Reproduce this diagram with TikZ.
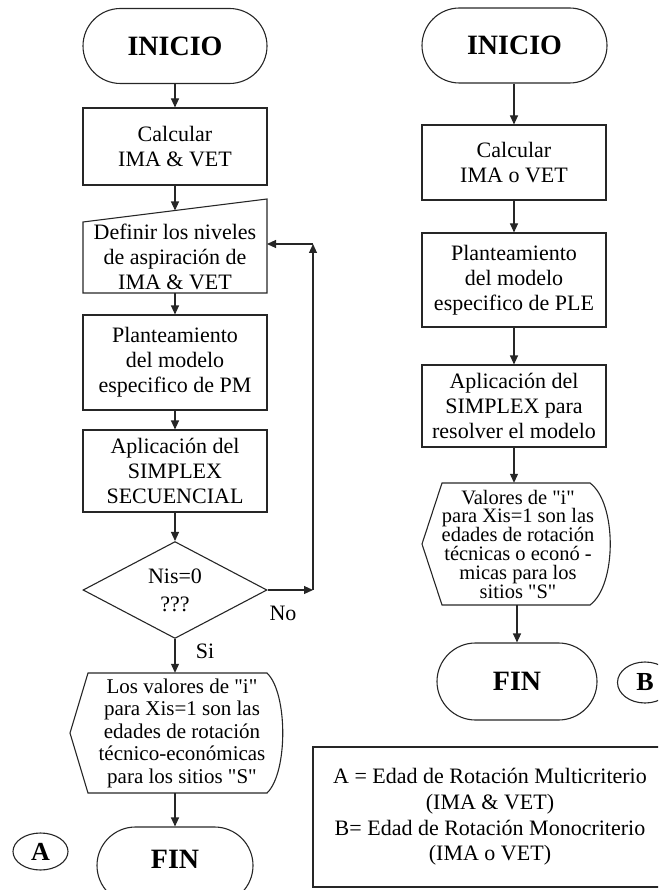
\documentclass[tikz,border=0pt]{standalone}
\usepackage{fontspec}
\setmainfont{Liberation Serif}[Ligatures=TeXOff]
\usetikzlibrary{arrows.meta,shapes.misc,shapes.geometric}
\newcommand\boxfont{\fontsize{22}{25}\selectfont\lineskiplimit=-100pt}
\newcommand\hexfontA{\fontsize{21}{22.5}\selectfont\lineskiplimit=-100pt}
\newcommand\hexfontB{\fontsize{20.5}{18.8}\selectfont\lineskiplimit=-100pt\lineskip=0pt}
\newcommand\legfont{\fontsize{22}{25.7}\selectfont\lineskiplimit=-100pt}
\newcommand\termfont{\fontsize{28}{30}\selectfont\bfseries}
\tikzset{
 ln/.style={line width=1.1pt, draw=black!85},
 arr/.style={ln,-{Triangle[length=9pt,width=8pt]}},
 term/.style={rounded rectangle, ln, minimum width=184pt, minimum height=75pt, font=\termfont, inner sep=0pt},
 procbox/.style={rectangle, ln, minimum width=184pt, align=center, font=\boxfont, inner sep=0pt},
 plaintext/.style={align=center, inner sep=0pt},
 tag/.style={ellipse, ln, minimum width=55pt, inner sep=0pt, font=\fontsize{26}{28}\selectfont\bfseries},
}
\begin{document}
\begin{tikzpicture}[x=1pt,y=-1pt]
\useasboundingbox (0,0) rectangle (658,890);
\clip (0,0) rectangle (658,890);
% ---------------- left flowchart (A) ----------------
\node[term] (ini1) at (175,46) {INICIO};
\node[procbox, minimum height=77pt] (calc1) at (175,146.5) {Calcular\\IMA \& VET};
\node[plaintext, font=\boxfont] (def1) at (175,257) {Definir los niveles\\de aspiración de\\IMA \& VET};
\draw[ln] (83,293) -- (83,222) -- (267,199) -- (267,293) -- cycle;
\coordinate (def1top) at (175,210.5);
\coordinate (def1right) at (267,244);
\coordinate (def1bot) at (175,293);
\node[procbox, minimum height=95pt] (plan1) at (175,362.5) {Planteamiento\\del modelo\\especifico de PM};
\node[procbox, minimum height=82pt] (apl1) at (175,471) {Aplicación del\\SIMPLEX\\SECUENCIAL};
\node[diamond, ln, minimum width=184pt, minimum height=95pt, inner sep=0pt, align=center,
      font=\fontsize{22}{28}\selectfont] (dia1) at (175,590) {Nis=0\\???};
\node[plaintext, font=\hexfontA, minimum height=120pt] (out1) at (182,733)
  {Los valores de "i"\\para Xis=1 son las\\edades de rotación\\técnico-económicas\\para los sitios "S"};
\draw[ln] (70,733) -- (88,673) -- (267,673) .. controls (288,693) and (288,773) .. (267,793) -- (88,793) -- cycle;
\node[term, minimum width=156pt, minimum height=77pt] (fin1) at (175,865.5) {\raisebox{12pt}{FIN}};
\node[tag, minimum height=37pt] (labA) at (40.5,851.5) {A};
\draw[arr] (ini1.south) -- (calc1.north);
\draw[arr] (calc1.south) -- (def1top);
\draw[arr] (def1bot) -- (plan1.north);
\draw[arr] (plan1.south) -- (apl1.north);
\draw[arr] (apl1.south) -- (dia1.north);
\draw[arr] (dia1.south) -- (dia1.south |- out1.north);
\node[font=\boxfont, inner sep=0pt] (si) at (205,651) {Si};
\draw[arr] (out1.south -| dia1.south) -- (fin1.north);
\coordinate (c1) at (313,590);
\coordinate (c2) at (313,244);
\draw[arr] (dia1.east) -- (c1);
\draw[arr] (c1) -- (c2);
\draw[arr] (c2) -- (def1right);
\node[font=\boxfont, inner sep=0pt] (no) at (283,613) {No};
% ---------------- right flowchart (B) ----------------
\node[term, minimum width=185pt] (ini2) at (514.5,45.5) {INICIO};
\node[procbox, minimum height=75pt] (calc2) at (514,162.5) {Calcular\\IMA o VET};
\node[procbox, minimum height=94pt] (plan2) at (514,280) {Planteamiento\\del modelo\\especifico de PLE};
\node[procbox, minimum height=82pt] (apl2) at (514,406) {Aplicación del\\SIMPLEX para\\resolver el modelo};
\node[plaintext, font=\hexfontB, minimum height=122pt] (out2) at (518,544)
  {Valores de "i"\\para Xis=1 son las\\edades de rotación\\técnicas o econó -\\micas para los\\sitios "S"};
\draw[ln] (422,544) -- (442,483) -- (590,483) .. controls (617,503) and (617,585) .. (590,605) -- (442,605) -- cycle;
\node[term, minimum width=160pt, minimum height=77pt] (fin2) at (517,681.5) {FIN};
\node[tag, minimum height=41pt] (labB) at (645,682.5) {B};
\draw[arr] (ini2.south -| calc2.north) -- (calc2.north);
\draw[arr] (calc2.south) -- (plan2.north);
\draw[arr] (plan2.south) -- (apl2.north);
\draw[arr] (apl2.south) -- (apl2.south |- out2.north);
\draw[arr] (out2.south -| fin2.north) -- (fin2.north);
% ---------------- legend ----------------
\node[rectangle, ln, minimum width=370pt, minimum height=140pt, plaintext, font=\legfont] (leg) at (498,817)
  {\hspace*{-16pt}A = Edad de Rotación Multicriterio\\\hspace*{-16pt}(IMA \& VET)\\\hspace*{-16pt}B= Edad de Rotación Monocriterio\\\hspace*{-16pt}(IMA o VET)};
\end{tikzpicture}
\end{document}
